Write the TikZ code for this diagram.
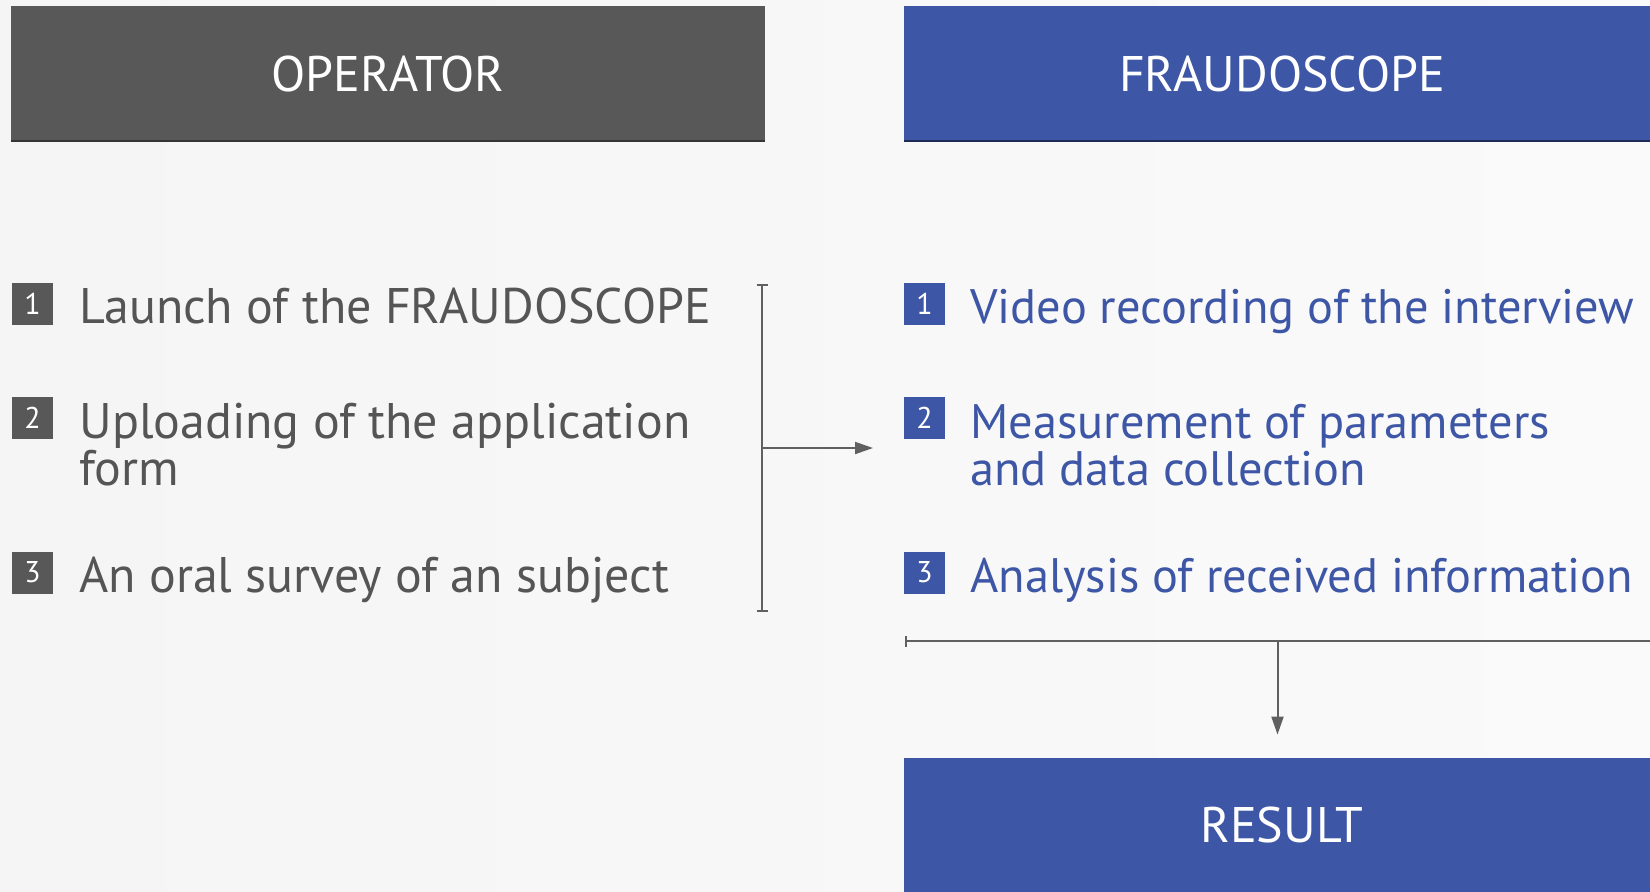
\documentclass[tikz,border=0pt]{standalone}
\usepackage{fontspec}
\setmainfont{PT Sans}
\usetikzlibrary{arrows.meta}
\definecolor{opGray}{HTML}{585858}
\definecolor{fsBlue}{HTML}{3D56A5}
\definecolor{txtGray}{HTML}{555555}
\definecolor{lineGray}{HTML}{606060}
\definecolor{bgLeft}{HTML}{F5F5F5}
\definecolor{bgRight}{HTML}{FAFAFA}

\begin{document}
\begin{tikzpicture}[x=0.5pt,y=-0.5pt,
  hdrbox/.style={inner sep=0pt, text=white, font=\fontsize{25}{30}\selectfont},
  numbox/.style={minimum width=20.5pt, minimum height=21pt, inner sep=0pt, text=white, font=\fontsize{15}{18}\selectfont},
  itemtxt/.style={anchor=base west, inner sep=0pt, font=\fontsize{25}{23.5}\selectfont, align=left},
  fsitem/.style={itemtxt, text=fsBlue, font=\fontsize{24.2}{23.5}\selectfont},
  conn/.style={draw=lineGray, line width=1pt},
  tip/.style={-{Triangle[length=9pt,width=6pt]}},
  bars/.style={{Bar[width=5.5pt]}-{Bar[width=5.5pt]}}
]
%set diagram size to 1650 x 891
\useasboundingbox (0,0) rectangle (1650,891);
\shade[left color=bgLeft, right color=bgRight] (0,0) rectangle (1650,891);

%Shape: Rectangle [header left]
\node[hdrbox, fill=opGray, minimum width=377pt, minimum height=68pt] (opHead) at (388,74) {OPERATOR};
\draw[opGray!60!black, line width=1pt] ([yshift=0.5pt]opHead.south west) -- ([yshift=0.5pt]opHead.south east);
%Shape: Rectangle [header right]
\node[hdrbox, fill=fsBlue, minimum width=378pt, minimum height=68pt] (fsHead) at (1282,74) {FRAUDOSCOPE};
\draw[fsBlue!50!black, line width=1pt] ([yshift=0.5pt]fsHead.south west) -- ([yshift=0.5pt]fsHead.south east);
%Shape: Rectangle [result]
\node[hdrbox, fill=fsBlue, minimum width=378pt, minimum height=67pt] (resBox) at (1282,825) {RESULT};

% Number boxes, operator side
\node[numbox, fill=opGray] (opN1) at (32.5,304) {1};
\node[numbox, fill=opGray] (opN2) at (32.5,417.5) {2};
\node[numbox, fill=opGray] (opN3) at (32.5,572.5) {3};
% Number boxes, fraudoscope side
\node[numbox, fill=fsBlue] (fsN1) at (924.5,304) {1};
\node[numbox, fill=fsBlue] (fsN2) at (924.5,417.5) {2};
\node[numbox, fill=fsBlue] (fsN3) at (924.5,572.5) {3};

% Text Node
\node[itemtxt, text=txtGray] (opT1) at (79,323) {Launch of the FRAUDOSCOPE};
% Text Node (base is the second line)
\node[itemtxt, text=txtGray] (opT2) at (79,485) {Uploading of the application\\form};
% Text Node
\node[itemtxt, text=txtGray] (opT3) at (79,592) {An oral survey of an subject};
% Text Node
\node[fsitem] (fsT1) at (970,323) {Video recording of the interview};
% Text Node (base is the second line)
\node[fsitem] (fsT2) at (970,485) {Measurement of parameters\\and data collection};
% Text Node
\node[fsitem] (fsT3) at (970,592) {Analysis of received information};

%Bracket and arrow between the columns
\coordinate (brTop) at (762,284);
\coordinate (brBot) at (762,612);
\coordinate (brMid) at (762,448);
\coordinate (arrEnd) at (873,448);
\draw[conn, bars] (brTop) -- (brBot);
\draw[conn, tip] (brMid) -- (arrEnd);

%Line under the steps and arrow to result
\coordinate (lnStart) at (905,641);
\coordinate (lnEnd) at (1650,641);
\coordinate (lnSplit) at (1277.5,641);
\draw[conn, {Bar[width=5.5pt]}-] (lnStart) -- (lnEnd);
\draw[conn, tip, shorten >=11.5pt] (lnSplit) -- (lnSplit |- resBox.north);

\end{tikzpicture}
\end{document}
